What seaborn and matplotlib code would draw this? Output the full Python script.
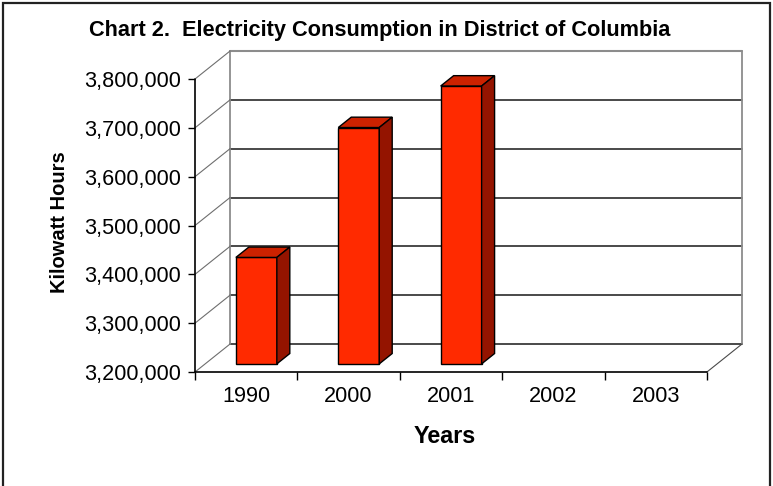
import numpy as np
import pandas as pd
import matplotlib
matplotlib.use("Agg")
import matplotlib.pyplot as plt
import seaborn as sns
from matplotlib.patches import Polygon, Rectangle

# ---------------------------
# Data
# ---------------------------
years = ["1990", "2000", "2001", "2002", "2003"]
kwh = [3418000, 3684000, 3769000, np.nan, np.nan]
y_ticks = [3200000, 3300000, 3400000, 3500000, 3600000, 3700000, 3800000]

title = "Chart 2.  Electricity Consumption in District of Columbia"
x_title = "Years"
y_title = "Kilowatt Hours"

sns.set_style("white")
plt.rcParams["font.family"] = ["Liberation Sans", "DejaVu Sans"]
plt.rcParams["text.color"] = "black"
plt.rcParams["xtick.labelcolor"] = "black"
plt.rcParams["ytick.labelcolor"] = "black"

W, H = 773, 486
fig = plt.figure(figsize=(W / 100, H / 100), dpi=100)
# axes box runs from the front floor corner to the top right of the back wall
ax = fig.add_axes([195 / W, 1 - 372 / H, (742 - 195) / W, (372 - 51) / H])

df = pd.DataFrame({"year": years, "kwh": kwh})
sns.barplot(data=df, x="year", y="kwh", order=years, width=0.4,
            color="#ff2a00", saturation=1, errorbar=None,
            edgecolor="black", linewidth=1, ax=ax, zorder=5)

# ---------------------------
# fake 3D geometry (oblique depth offset)
# ---------------------------
n = len(years)
y0, y1 = y_ticks[0], y_ticks[-1]
px_x = (706 - 195) / n
px_y = (372 - 79) / (y1 - y0)
DX = 35 / px_x
DY = 28 / px_y
ax.set_xlim(-0.5, n - 0.5 + DX)
ax.set_ylim(y0, y1 + DY)

f0, f1 = 0.29, 0.66
bdx, bdy = (f1 - f0) * DX, (f1 - f0) * DY
for patch in list(ax.patches):
    h = patch.get_height()
    if np.isnan(h):
        continue
    x = patch.get_x() + f0 * DX
    w = patch.get_width()
    base = y0 + f0 * DY
    top = h + f0 * DY
    patch.set_x(x)
    patch.set_y(base)
    patch.set_height(top - base)
    top_face = [(x, top), (x + w, top), (x + w + bdx, top + bdy), (x + bdx, top + bdy)]
    side_face = [(x + w, base), (x + w, top), (x + w + bdx, top + bdy), (x + w + bdx, base + bdy)]
    ax.add_patch(Polygon(top_face, closed=True, facecolor="#cc2200", edgecolor="black", lw=1, zorder=6))
    ax.add_patch(Polygon(side_face, closed=True, facecolor="#941400", edgecolor="black", lw=1, zorder=6))

# back wall
xb0, xb1 = -0.5 + DX, n - 0.5 + DX
for v in y_ticks[:-1]:
    ax.plot([xb0, xb1], [v + DY, v + DY], color="#3a3a3a", lw=1.3, zorder=1, clip_on=False)
ax.plot([xb0, xb1], [y1 + DY, y1 + DY], color="#8c8c8c", lw=1.5, zorder=1, clip_on=False)
ax.plot([xb0, xb0], [y0 + DY, y1 + DY], color="#8c8c8c", lw=1.3, zorder=1, clip_on=False)
ax.plot([xb1, xb1], [y0 + DY, y1 + DY], color="#8c8c8c", lw=1.3, zorder=1, clip_on=False)

# side wall diagonals and floor
for v in y_ticks:
    ax.plot([-0.5, xb0], [v, v + DY], color="#6e6e6e", lw=0.8, zorder=1, clip_on=False)
ax.plot([n - 0.5, xb1], [y0, y0 + DY], color="#4a4a4a", lw=0.8, zorder=1, clip_on=False)
ax.plot([-0.5, n - 0.5], [y0, y0], color="black", lw=1.2, zorder=7, clip_on=False)
ax.plot([-0.5, -0.5], [y0, y1], color="black", lw=1.2, zorder=7, clip_on=False)

for s in ax.spines.values():
    s.set_visible(False)

ax.set_yticks(y_ticks)
ax.set_yticklabels([f"{v:,}" for v in y_ticks])
ax.tick_params(axis="y", left=True, length=5, width=1, color="black", pad=5, labelsize=15.6)
ax.set_xticks(range(n))
ax.set_xticklabels(years)
ax.set_xticks(np.arange(n + 1) - 0.5, minor=True)
ax.tick_params(axis="x", which="major", bottom=True, length=0, pad=10, labelsize=15.6)
ax.tick_params(axis="x", which="minor", bottom=True, length=6, width=1, color="black")
ax.set_xlabel("")
ax.set_ylabel("")

fig.text(380 / W, 1 - 30 / H, title, ha="center", va="center", fontsize=15.7, fontweight="bold")
fig.text(445 / W, 1 - 436 / H, x_title, ha="center", va="center", fontsize=16.8, fontweight="bold")
fig.text(60 / W, 1 - 222 / H, y_title, ha="center", va="center", rotation=90, fontsize=14.5, fontweight="bold")

fig.add_artist(Rectangle((3 / W, -0.05), (770 - 3) / W, 1.05 - 3 / H, transform=fig.transFigure,
                         fill=False, edgecolor="#222222", lw=1.6))

fig.savefig("out.png", dpi=100)
